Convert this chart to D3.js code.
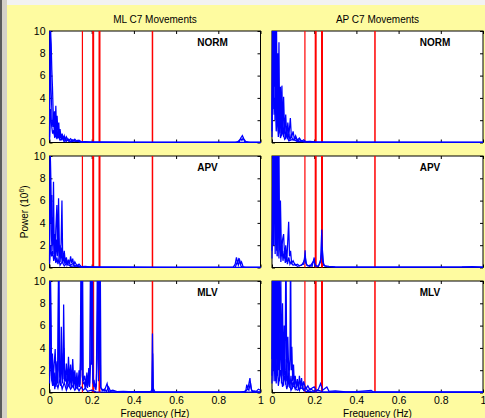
<!DOCTYPE html>
<html>
<head>
<meta charset="utf-8">
<script src="https://cdn.jsdelivr.net/npm/d3@7"></script>
<style>
  body { margin: 0; background: #f0f0f0; }
  svg { display: block; font-family: "Liberation Sans", Arial, sans-serif; }
</style>
</head>
<body>
<script>
const width = 485, height = 418;

// column titles, row labels, ticks and the red reference frequencies
const colTitles = ['ML C7 Movements', 'AP C7 Movements'];
const rowLabels = ['NORM', 'APV', 'MLV'];
const xTicks = [0, 0.2, 0.4, 0.6, 0.8, 1];
const yTicks = [0, 2, 4, 6, 8, 10];
const redFreqs = [0.156, 0.207, 0.237, 0.488];
const redWidths = [1.2, 2, 2, 1.5];

// spectra: each panel holds a few overlaid trials as [freq (Hz), power (10^6)]
const mlNorm = [
  [[0,0.5],[0.003,12],[0.006,9.5],[0.008,8.8],[0.011,6.5],[0.014,5],[0.017,3],[0.02,1.5],[0.024,2.8],[0.027,1.2],[0.03,3.3],[0.033,1.1],[0.036,2.4],[0.04,0.8],[0.044,1.8],[0.047,0.5],[0.05,1.2],[0.055,0.4],[0.06,0.8],[0.065,0.3],[0.07,0.6],[0.075,0.2],[0.08,0.5],[0.09,0.15],[0.1,0.35],[0.11,0.1],[0.12,0.3],[0.13,0.1],[0.14,0.2],[0.15,0.06],[0.17,0.08],[0.2,0.04],[0.25,0.03],[0.4,0.02],[0.88,0.02],[0.9,0.1],[0.908,0.45],[0.914,0.62],[0.92,0.35],[0.93,0.08],[0.95,0.02],[1,0.02]],
  [[0,0.3],[0.004,11],[0.007,5],[0.01,3.5],[0.013,2],[0.016,1.4],[0.02,2.2],[0.023,0.7],[0.027,1.6],[0.031,0.6],[0.035,1.3],[0.039,0.4],[0.043,1.0],[0.048,0.3],[0.053,0.7],[0.058,0.2],[0.063,0.6],[0.068,0.2],[0.073,0.45],[0.08,0.1],[0.09,0.3],[0.1,0.1],[0.11,0.25],[0.125,0.08],[0.135,0.2],[0.15,0.04],[0.2,0.03],[0.5,0.02],[0.89,0.02],[0.9,0.2],[0.906,0.35],[0.912,0.2],[0.918,0.4],[0.925,0.1],[0.94,0.02],[1,0.02]],
  [[0,0.2],[0.005,3],[0.01,1.5],[0.015,0.8],[0.02,1.1],[0.025,0.4],[0.03,0.9],[0.035,0.3],[0.04,0.6],[0.05,0.2],[0.06,0.4],[0.07,0.1],[0.08,0.25],[0.1,0.05],[0.12,0.15],[0.15,0.03],[1,0.02]]
];
const mlApv = [
  [[0,0.6],[0.003,11],[0.006,7.7],[0.009,3],[0.012,1.5],[0.015,3.5],[0.019,7.7],[0.022,2],[0.026,1],[0.03,3.5],[0.035,5.6],[0.038,1.2],[0.043,6.2],[0.047,1.5],[0.05,0.8],[0.055,2.2],[0.059,6.0],[0.062,1.5],[0.066,0.6],[0.07,1.5],[0.075,0.4],[0.08,0.9],[0.085,0.3],[0.09,0.7],[0.095,0.3],[0.1,1.0],[0.105,0.4],[0.11,0.8],[0.115,0.2],[0.12,0.5],[0.13,0.15],[0.14,0.3],[0.15,0.08],[0.17,0.1],[0.2,0.04],[0.3,0.03],[0.5,0.02],[0.87,0.02],[0.88,0.3],[0.886,0.9],[0.892,0.4],[0.898,0.85],[0.905,0.3],[0.91,0.5],[0.918,0.05],[0.93,0.02],[1,0.02]],
  [[0,0.4],[0.004,10.5],[0.007,4],[0.011,6.5],[0.014,2],[0.018,4.5],[0.021,1.2],[0.025,3],[0.028,0.8],[0.033,2.5],[0.037,1.0],[0.041,3.5],[0.045,0.7],[0.05,2.0],[0.054,0.5],[0.058,1.8],[0.063,0.4],[0.068,1.0],[0.073,0.3],[0.078,0.7],[0.083,0.2],[0.09,0.5],[0.1,0.2],[0.11,0.35],[0.12,0.1],[0.13,0.2],[0.15,0.05],[0.18,0.06],[0.25,0.03],[0.6,0.02],[0.88,0.02],[0.89,0.5],[0.895,0.2],[0.902,0.6],[0.908,0.1],[0.92,0.02],[1,0.02]],
  [[0,0.3],[0.005,2],[0.01,1.0],[0.015,1.5],[0.02,0.6],[0.025,1.2],[0.03,0.4],[0.035,0.9],[0.04,0.3],[0.045,0.8],[0.05,0.2],[0.06,0.5],[0.07,0.15],[0.08,0.35],[0.1,0.1],[0.12,0.15],[0.15,0.03],[1,0.02]]
];
const mlMlv = [
  [[0,2.5],[0.003,14],[0.006,8],[0.01,2],[0.014,3.5],[0.018,1],[0.022,2.5],[0.027,3.9],[0.031,1.2],[0.036,2.8],[0.04,0.8],[0.043,14],[0.047,2],[0.051,1],[0.056,5.9],[0.06,2],[0.064,1.2],[0.067,7.9],[0.071,2.2],[0.075,1],[0.08,2.6],[0.085,0.8],[0.09,3.2],[0.095,1],[0.1,2.5],[0.105,0.8],[0.11,3.0],[0.115,1],[0.12,2],[0.125,0.6],[0.13,1.8],[0.135,0.5],[0.14,2],[0.145,0.7],[0.15,14],[0.153,2],[0.156,14],[0.16,1],[0.167,1.5],[0.172,0.5],[0.177,1.8],[0.182,0.6],[0.186,2.2],[0.19,0.8],[0.195,14],[0.199,2.5],[0.203,14],[0.207,0.8],[0.212,1.0],[0.217,0.3],[0.222,0.6],[0.228,14],[0.232,1],[0.236,14],[0.24,14],[0.244,0.4],[0.25,0.3],[0.26,0.15],[0.273,0.8],[0.28,0.1],[0.3,0.2],[0.32,0.08],[0.35,0.1],[0.4,0.05],[0.48,0.05],[0.485,0.3],[0.488,5.3],[0.491,0.4],[0.5,0.05],[0.6,0.04],[0.9,0.04],[0.93,0.1],[0.935,0.7],[0.94,0.3],[0.945,0.8],[0.95,1.3],[0.955,0.4],[0.96,0.1],[0.97,0.15],[0.98,0.1],[0.99,0.3],[1,0.2]],
  [[0,1.5],[0.004,10.5],[0.008,3],[0.012,1],[0.016,2.2],[0.02,0.6],[0.025,1.8],[0.03,0.5],[0.034,2],[0.038,0.8],[0.044,11],[0.048,1.5],[0.053,0.6],[0.058,3.5],[0.062,0.8],[0.068,4],[0.072,1],[0.078,1.5],[0.083,0.4],[0.088,2],[0.093,0.6],[0.098,1.5],[0.103,0.4],[0.108,2],[0.113,0.5],[0.118,1.4],[0.123,0.3],[0.128,1.2],[0.133,0.3],[0.138,1.5],[0.143,0.5],[0.148,3],[0.152,12],[0.155,1.5],[0.16,0.8],[0.165,0.9],[0.17,0.3],[0.175,1.2],[0.18,0.4],[0.185,1.5],[0.19,0.5],[0.196,3],[0.2,12],[0.205,1.2],[0.21,0.5],[0.215,0.8],[0.22,0.2],[0.226,3],[0.23,12],[0.234,2],[0.238,12],[0.242,0.5],[0.25,0.15],[0.26,0.3],[0.27,0.1],[0.28,0.5],[0.29,0.08],[0.35,0.05],[0.487,0.1],[0.489,3.5],[0.492,0.1],[0.5,0.04],[0.92,0.04],[0.94,0.3],[0.945,0.2],[0.952,0.9],[0.958,0.2],[0.97,0.05],[1,0.05]],
  [[0,0.8],[0.005,4],[0.01,1.2],[0.015,0.6],[0.02,1.4],[0.025,0.3],[0.03,1],[0.04,0.4],[0.05,1.2],[0.06,0.3],[0.07,0.9],[0.08,0.2],[0.09,0.7],[0.1,0.3],[0.11,0.6],[0.12,0.2],[0.13,0.5],[0.14,0.15],[0.15,0.5],[0.16,0.2],[0.17,0.4],[0.18,0.1],[0.2,0.2],[0.22,0.05],[0.3,0.03],[1,0.03]]
];
const apNorm = [
  [[0,2],[0.003,14],[0.006,3],[0.009,14],[0.012,5],[0.015,14],[0.018,4],[0.021,12],[0.024,3],[0.027,8],[0.03,2],[0.033,9],[0.036,1.5],[0.04,5],[0.044,1.5],[0.047,5.1],[0.051,1],[0.055,4.1],[0.06,0.8],[0.065,2.5],[0.07,0.5],[0.075,1.8],[0.08,0.6],[0.087,2.2],[0.092,0.4],[0.1,1.0],[0.106,0.3],[0.112,0.6],[0.12,0.2],[0.13,0.4],[0.14,0.1],[0.15,0.25],[0.16,0.08],[0.18,0.1],[0.2,0.05],[0.3,0.03],[1,0.02]],
  [[0,1],[0.004,12],[0.008,6],[0.011,14],[0.014,2],[0.018,9],[0.022,1.5],[0.026,6],[0.03,1],[0.034,4],[0.038,0.8],[0.042,3],[0.046,0.6],[0.05,2.5],[0.055,0.5],[0.06,1.5],[0.065,0.3],[0.07,1.2],[0.075,0.3],[0.08,0.8],[0.085,0.2],[0.09,0.6],[0.1,0.2],[0.11,0.4],[0.12,0.1],[0.13,0.25],[0.15,0.06],[0.2,0.04],[0.4,0.02],[1,0.02]],
  [[0,0.5],[0.005,7],[0.01,2.5],[0.015,4],[0.02,1],[0.025,2.5],[0.03,0.5],[0.035,1.8],[0.04,0.4],[0.05,1],[0.06,0.3],[0.07,0.6],[0.08,0.15],[0.1,0.3],[0.12,0.08],[0.15,0.1],[0.2,0.03],[1,0.02]]
];
const apApv = [
  [[0,1.5],[0.003,3.4],[0.006,14],[0.009,4],[0.012,14],[0.015,2],[0.018,14],[0.021,1.5],[0.025,12],[0.028,1],[0.032,14],[0.036,2],[0.04,6],[0.045,1],[0.05,2.5],[0.055,3.0],[0.06,0.8],[0.065,2],[0.07,0.5],[0.075,2.5],[0.079,4.1],[0.083,1],[0.088,1.5],[0.093,0.4],[0.1,0.6],[0.11,0.2],[0.12,0.3],[0.13,0.15],[0.14,0.25],[0.15,0.3],[0.155,1.0],[0.157,1.55],[0.16,0.4],[0.17,0.15],[0.18,0.2],[0.19,0.1],[0.2,0.9],[0.203,0.3],[0.21,0.15],[0.22,0.1],[0.23,0.5],[0.236,3.4],[0.24,0.5],[0.25,0.15],[0.27,0.1],[0.3,0.06],[0.4,0.04],[0.6,0.03],[0.9,0.05],[0.95,0.08],[1,0.04]],
  [[0,0.8],[0.004,10],[0.007,2],[0.011,11],[0.015,1.2],[0.02,8],[0.024,1],[0.029,6],[0.033,0.8],[0.037,3.5],[0.042,0.5],[0.047,2],[0.052,0.6],[0.058,1.5],[0.063,0.4],[0.068,1.2],[0.073,0.3],[0.08,0.9],[0.085,0.3],[0.09,0.5],[0.1,0.2],[0.11,0.3],[0.12,0.1],[0.14,0.2],[0.15,0.5],[0.158,0.9],[0.165,0.2],[0.18,0.1],[0.198,0.6],[0.205,0.15],[0.22,0.1],[0.232,0.8],[0.238,1.8],[0.245,0.2],[0.26,0.08],[0.3,0.04],[1,0.03]]
];
const apMlv = [
  [[0,3],[0.003,14],[0.006,4],[0.009,14],[0.012,2],[0.015,14],[0.018,3],[0.021,14],[0.024,1.5],[0.027,12],[0.03,2],[0.034,14],[0.038,3],[0.042,10],[0.046,1.5],[0.05,8],[0.054,1],[0.058,6],[0.062,2],[0.066,14],[0.07,1],[0.075,5],[0.08,1.2],[0.085,3],[0.088,14],[0.091,2],[0.094,4.1],[0.098,1],[0.102,2.5],[0.106,0.6],[0.11,1.5],[0.115,0.4],[0.12,1.2],[0.125,0.3],[0.13,1.5],[0.135,0.4],[0.14,1.3],[0.145,0.3],[0.15,1.0],[0.16,0.3],[0.17,0.6],[0.18,0.2],[0.19,0.4],[0.2,0.5],[0.21,0.15],[0.22,0.3],[0.23,0.8],[0.24,0.2],[0.26,0.5],[0.27,0.1],[0.3,0.15],[0.35,0.06],[0.4,0.08],[0.47,0.2],[0.48,0.05],[0.6,0.04],[1,0.03]],
  [[0,1.5],[0.004,12],[0.008,2],[0.012,9],[0.016,1],[0.02,7],[0.025,1.5],[0.03,9],[0.035,1],[0.04,6],[0.045,0.8],[0.05,4],[0.055,0.6],[0.06,3],[0.065,0.7],[0.07,2.5],[0.075,0.5],[0.08,1.8],[0.085,0.4],[0.09,1.5],[0.095,0.3],[0.1,1.0],[0.11,0.3],[0.12,0.8],[0.13,0.2],[0.14,0.9],[0.15,0.2],[0.16,0.5],[0.17,0.1],[0.18,0.35],[0.2,0.1],[0.22,0.2],[0.24,0.05],[0.3,0.04],[1,0.03]],
  [[0,0.8],[0.005,5],[0.01,1],[0.015,4],[0.02,0.8],[0.025,3],[0.03,0.6],[0.04,2],[0.05,0.5],[0.06,1.5],[0.07,0.3],[0.08,1.0],[0.09,0.2],[0.1,0.6],[0.12,0.2],[0.14,0.4],[0.16,0.1],[0.2,0.05],[1,0.03]]
];

const panelData = [[mlNorm, apNorm], [mlApv, apApv], [mlMlv, apMlv]];

// layout of the 3x2 grid
const colX = [49.5, 272], panelW = 211;
const rowY = [31, 156, 281], panelH = 111.5;

const svg = d3.select('body').append('svg')
    .attr('width', width)
    .attr('height', height);

// window frame: grey strip on the left, light band on top, yellow figure
svg.append('rect').attr('width', width).attr('height', height).attr('fill', '#f2f2f2');
svg.append('rect').attr('x', 0).attr('width', 2).attr('height', height).attr('fill', '#5a5a5a');
svg.append('rect').attr('x', 2).attr('width', 5).attr('height', height).attr('fill', '#d4d0c8');
svg.append('rect').attr('x', 7).attr('y', 5).attr('width', width - 7).attr('height', height - 5).attr('fill', '#fefba0');

const line = d3.line();

rowY.forEach(function(y0, r) {
  colX.forEach(function(x0, c) {
    const x = d3.scaleLinear().domain([0, 1]).range([x0, x0 + panelW]);
    const y = d3.scaleLinear().domain([0, 10]).range([y0 + panelH, y0]);
    const g = svg.append('g');
    const clipId = 'clip' + r + c;

    g.append('clipPath').attr('id', clipId)
      .append('rect')
        .attr('x', x0 - 1).attr('y', y0)
        .attr('width', panelW + 2).attr('height', panelH + 1.5);

    g.append('rect')
        .attr('x', x0).attr('y', y0)
        .attr('width', panelW).attr('height', panelH)
        .attr('fill', '#fff')
        .attr('stroke', '#000')
        .attr('stroke-width', 1);

    // ticks on all four sides, pointing inward
    g.append('g').attr('transform', 'translate(0,' + (y0 + panelH) + ')')
        .call(d3.axisBottom(x).tickValues(xTicks).tickSizeInner(-3).tickSizeOuter(0).tickPadding(4.5)
          .tickFormat(r == 2 ? d3.format('') : ''));
    g.append('g').attr('transform', 'translate(' + x0 + ',0)')
        .call(d3.axisLeft(y).tickValues(yTicks).tickSizeInner(-3).tickSizeOuter(0).tickPadding(4)
          .tickFormat(c == 0 ? d3.format('') : ''));
    g.append('g').attr('transform', 'translate(0,' + y0 + ')')
        .call(d3.axisTop(x).tickValues(xTicks).tickSizeInner(-3).tickSizeOuter(0).tickFormat(''));
    g.append('g').attr('transform', 'translate(' + (x0 + panelW) + ',0)')
        .call(d3.axisRight(y).tickValues(yTicks).tickSizeInner(-3).tickSizeOuter(0).tickFormat(''));

    g.selectAll('.domain').remove();
    g.selectAll('.tick line').attr('stroke', '#000');
    g.selectAll('.tick text')
        .attr('fill', '#000')
        .style('font-size', '10.5px')
        .style('font-family', '"Liberation Sans", Arial, sans-serif');

    const plot = g.append('g').attr('clip-path', 'url(#' + clipId + ')');

    plot.selectAll('line.ref')
      .data(redFreqs)
      .enter().append('line')
        .attr('class', 'ref')
        .attr('x1', d => x(d)).attr('x2', d => x(d))
        .attr('y1', y(0)).attr('y2', y(10))
        .attr('stroke', '#ff0000')
        .attr('stroke-width', (d, i) => redWidths[i]);

    plot.selectAll('path.trial')
      .data(panelData[r][c])
      .enter().append('path')
        .attr('class', 'trial')
        .attr('d', d => line(d.map(p => [x(p[0]), y(p[1])])))
        .attr('fill', 'none')
        .attr('stroke', '#0000ff')
        .attr('stroke-width', 1.25);

    g.append('text')
        .attr('x', x(0.7))
        .attr('y', y0 + 14.5)
        .style('font-size', '10px')
        .style('font-weight', 'bold')
        .attr('fill', '#000')
        .text(rowLabels[r]);

    if (r == 0) {
      svg.append('text')
          .attr('x', x0 + panelW / 2)
          .attr('y', 22.5)
          .attr('text-anchor', 'middle')
          .style('font-size', '10px')
          .attr('fill', '#000')
          .text(colTitles[c]);
    }
    if (r == 2) {
      svg.append('text')
          .attr('x', x0 + panelW / 2)
          .attr('y', 417)
          .attr('text-anchor', 'middle')
          .style('font-size', '10px')
          .attr('fill', '#000')
          .text('Frequency (Hz)');
    }
  });
});

// y label with superscript exponent
const ylab = svg.append('text')
    .attr('transform', 'translate(28,' + (rowY[1] + panelH / 2) + ') rotate(-90)')
    .attr('text-anchor', 'middle')
    .style('font-size', '10px')
    .attr('fill', '#000');
ylab.append('tspan').text('Power (10');
ylab.append('tspan').attr('dy', -4).style('font-size', '7px').text('6');
ylab.append('tspan').attr('dy', 4).text(')');
</script>
</body>
</html>
